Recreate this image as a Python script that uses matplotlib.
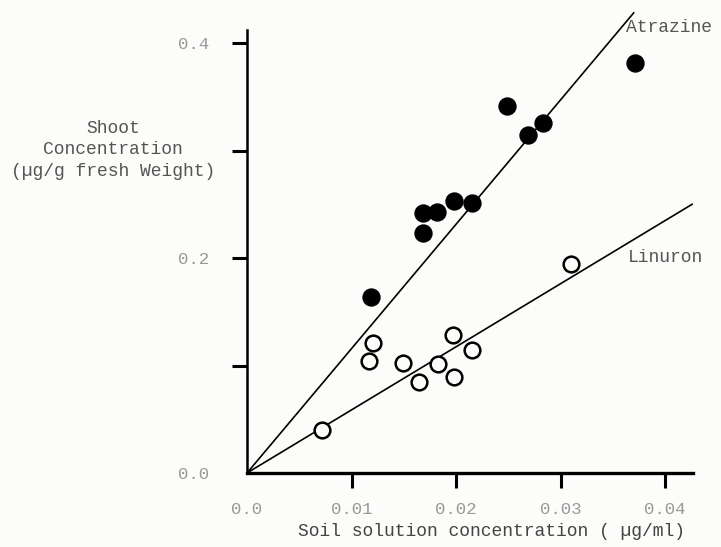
import matplotlib
matplotlib.use("Agg")
import matplotlib.pyplot as plt

# Atrazine (filled circles)
atrazine_x = [0.0119, 0.0168, 0.0168, 0.0182, 0.0198, 0.0215, 0.0249, 0.0269, 0.0283, 0.0371]
atrazine_y = [0.164, 0.223, 0.242, 0.243, 0.253, 0.251, 0.341, 0.314, 0.326, 0.381]

# Linuron (open circles)
linuron_x = [0.0072, 0.0121, 0.0117, 0.0149, 0.0165, 0.0183, 0.0197, 0.0198, 0.0215, 0.0310]
linuron_y = [0.040, 0.121, 0.104, 0.102, 0.085, 0.101, 0.128, 0.089, 0.114, 0.194]

# Hand-drawn fitted lines (endpoints)
atrazine_fit_x = [0.0, 0.0370]
atrazine_fit_y = [0.0, 0.428]
linuron_fit_x = [0.0, 0.0426]
linuron_fit_y = [0.0, 0.250]

xticks = [0.0, 0.01, 0.02, 0.03, 0.04]
xticklabels = ["0.0", "0.01", "0.02", "0.03", "0.04"]
yticks = [0.0, 0.1, 0.2, 0.3, 0.4]
yticklabels = ["0.0", "", "0.2", "", "0.4"]

FONT = "Liberation Mono"
W, H = 721, 547
BG = "#fcfcfa"
fig = plt.figure(figsize=(W / 100, H / 100), dpi=100)
fig.patch.set_facecolor(BG)

left, bottom, right, top = 247, 473, 693, 30
ax = fig.add_axes([left / W, (H - bottom) / H, (right - left) / W, (bottom - top) / H])
ax.set_facecolor(BG)
ax.set_xlim(0, (right - left) / 10450)
ax.set_ylim(0, (bottom - top) / 1075)

ax.plot(atrazine_fit_x, atrazine_fit_y, color="black", lw=1.2, clip_on=False)
ax.plot(linuron_fit_x, linuron_fit_y, color="black", lw=1.2, clip_on=False)

ax.plot(atrazine_x, atrazine_y, "o", color="black", ms=12.2, mec="black", clip_on=False, zorder=3)
ax.plot(linuron_x, linuron_y, "o", mfc=BG, mec="black", ms=11.3, mew=1.8, clip_on=False, zorder=3)

for s in ["top", "right"]:
    ax.spines[s].set_visible(False)
ax.spines["left"].set_linewidth(1.8)
ax.spines["bottom"].set_linewidth(2.4)

ax.set_xticks(xticks)
ax.set_xticklabels(xticklabels, fontfamily=FONT, fontsize=12.5, color="#999999")
ax.set_yticks(yticks)
ax.set_yticklabels(yticklabels, fontfamily=FONT, fontsize=12.5, color="#999999")
ax.tick_params(axis="x", direction="out", length=11, width=2.2, pad=10)
ax.tick_params(axis="y", direction="out", length=11, width=2.2, pad=16)
ax.xaxis.get_major_ticks()[0].tick1line.set_visible(False)
ax.yaxis.get_major_ticks()[0].tick1line.set_visible(False)

fig.text(492 / W, 1 - 532 / H, "Soil solution concentration ( µg/ml)", fontfamily=FONT,
         fontsize=13, color="#444444", ha="center", va="center")
fig.text(113 / W, 1 - 150 / H, "Shoot\nConcentration\n(µg/g fresh Weight)", fontfamily=FONT,
         fontsize=13, color="#555555", ha="center", va="center", linespacing=1.35)

fig.text(626 / W, 1 - 27 / H, "Atrazine", fontfamily=FONT, fontsize=13, color="#555555",
         ha="left", va="center")
fig.text(628 / W, 1 - 258 / H, "Linuron", fontfamily=FONT, fontsize=13, color="#555555",
         ha="left", va="center")

fig.savefig("out.png", dpi=100, facecolor=fig.get_facecolor())
